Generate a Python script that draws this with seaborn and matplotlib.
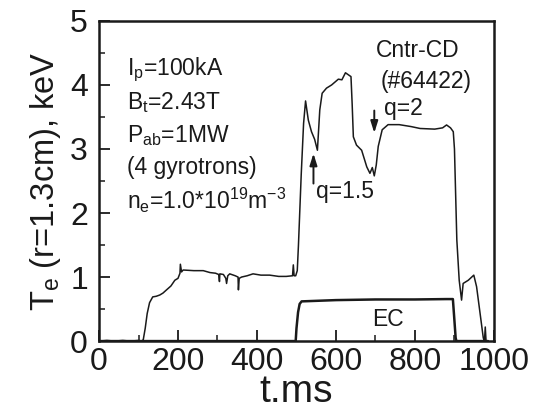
import matplotlib
matplotlib.use("Agg")
import matplotlib.pyplot as plt
import seaborn as sns
import pandas as pd
from matplotlib.ticker import MultipleLocator

# ---- data ----
te_time = [0, 20, 40, 60, 80, 100, 108, 112, 117, 122, 128, 136, 145, 154, 162, 171, 182,
           192, 200, 205, 206, 209, 213, 240, 264, 281, 295, 303, 305, 306, 315, 321, 323,
           326, 331, 345, 352, 353, 355, 361, 375, 390, 410, 432, 455, 474, 490, 492, 494,
           498, 502, 505, 512, 518, 523, 530, 538, 546, 553, 559, 565, 576, 589, 606, 615,
           624, 638, 641, 644, 652, 665, 678, 686, 692, 697, 702, 707, 717, 732, 760, 790,
           813, 850, 870, 880, 890, 897, 900, 906, 912, 918, 922, 935, 949, 956, 966, 973,
           976, 978, 980, 985]
te_val = [0.0, 0.01, 0.0, 0.01, 0.0, 0.01, 0.0, 0.02, 0.2, 0.43, 0.6, 0.69, 0.7, 0.72, 0.75,
          0.8, 0.86, 0.95, 0.98, 1.06, 1.2, 1.08, 1.11, 1.1, 1.1, 1.07, 1.06, 1.04, 0.93,
          1.05, 1.04, 0.98, 0.9, 1.02, 1.05, 1.02, 1.0, 0.8, 0.98, 1.0, 1.02, 1.05, 1.03,
          1.03, 1.01, 1.01, 1.02, 1.19, 1.02, 1.02, 1.1, 1.5, 2.6, 3.4, 3.75, 3.45, 3.27,
          3.15, 2.98, 3.61, 3.87, 3.95, 4.0, 4.09, 4.08, 4.19, 4.13, 3.7, 3.19, 3.06, 2.98,
          2.72, 2.62, 2.71, 2.58, 2.75, 3.04, 3.3, 3.38, 3.38, 3.35, 3.32, 3.31, 3.33, 3.375,
          3.33, 3.27, 3.0, 1.58, 0.95, 0.64, 0.9, 0.95, 1.03, 0.85, 0.38, 0.05, 0.0, 0.22,
          0.0, 0.0]
ec_time = [0, 498, 500, 504, 508, 513, 600, 700, 800, 880, 896, 899, 903, 905, 960, 985]
ec_val = [0.0, 0.0, 0.2, 0.45, 0.58, 0.62, 0.64, 0.65, 0.65, 0.656, 0.656, 0.4, 0.05, 0.0,
          0.0, 0.0]

x_ticks = [0, 200, 400, 600, 800, 1000]
y_ticks = [0, 1, 2, 3, 4, 5]
params = [r"$\mathregular{I_p}$=100kA", r"$\mathregular{B_t}$=2.43T",
          r"$\mathregular{P_{ab}}$=1MW", "(4 gyrotrons)",
          r"$\mathregular{n_e}$=1.0*$\mathregular{10^{19}m^{-3}}$"]

sns.set_style("ticks")
plt.rcParams["font.family"] = ["Liberation Sans", "DejaVu Sans"]
plt.rcParams["mathtext.fontset"] = "custom"
plt.rcParams["mathtext.rm"] = "Liberation Sans"

fig = plt.figure(figsize=(5.44, 4.18), dpi=100)
ax = fig.add_axes([0.182, 0.184, 0.726, 0.766])

te_df = pd.DataFrame({"t": te_time, "Te": te_val})
ec_df = pd.DataFrame({"t": ec_time, "EC": ec_val})
sns.lineplot(data=te_df, x="t", y="Te", ax=ax, color="#1a1a1a", linewidth=1.1,
             estimator=None, sort=False)
sns.lineplot(data=ec_df, x="t", y="EC", ax=ax, color="#1a1a1a", linewidth=1.8,
             estimator=None, sort=False)

ax.set_xlim(0, 1000)
ax.set_ylim(0, 5)
ax.set_xticks(x_ticks)
ax.set_yticks(y_ticks)
ax.xaxis.set_minor_locator(MultipleLocator(100))
ax.yaxis.set_minor_locator(MultipleLocator(0.5))
ax.tick_params(which="major", direction="in", length=8, width=1.3, labelsize=23,
               colors="#1a1a1a")
ax.tick_params(axis="x", which="major", pad=4)
ax.tick_params(axis="y", which="major", pad=8)
ax.tick_params(which="minor", direction="in", length=4, width=1.1, colors="#1a1a1a")
for s in ax.spines.values():
    s.set_visible(True)
    s.set_linewidth(1.8)
    s.set_color("#1a1a1a")

ax.set_xlabel("t.ms", fontsize=28, labelpad=-2, color="#1a1a1a")
ax.set_ylabel(r"$\mathregular{T_e}$ (r=1.3cm), keV", fontsize=23.5, labelpad=5,
              color="#1a1a1a")

for i, txt in enumerate(params):
    ax.text(0.07, 0.846 - i * 0.1015, txt, transform=ax.transAxes, fontsize=16.5,
            va="center", ha="left", color="#1a1a1a")

fs = 16.5
arrow = dict(arrowstyle="-|>,head_length=0.7,head_width=0.22", color="#1a1a1a",
             lw=1.4, shrinkA=0, shrinkB=0)
ax.text(807, 4.54, "Cntr-CD", fontsize=fs, ha="center", va="center", color="#1a1a1a")
ax.text(829, 4.05, "(#64422)", fontsize=fs, ha="center", va="center", color="#1a1a1a")
ax.text(770, 3.63, "q=2", fontsize=fs, ha="center", va="center", color="#1a1a1a")
ax.annotate("", xy=(697, 3.25), xytext=(697, 3.6), arrowprops=arrow)
ax.text(622, 2.33, "q=1.5", fontsize=fs, ha="center", va="center", color="#1a1a1a")
ax.annotate("", xy=(543, 2.93), xytext=(543, 2.46), arrowprops=arrow)
ax.text(732, 0.33, "EC", fontsize=fs, ha="center", va="center", color="#1a1a1a")

fig.savefig("out.png", dpi=100)
